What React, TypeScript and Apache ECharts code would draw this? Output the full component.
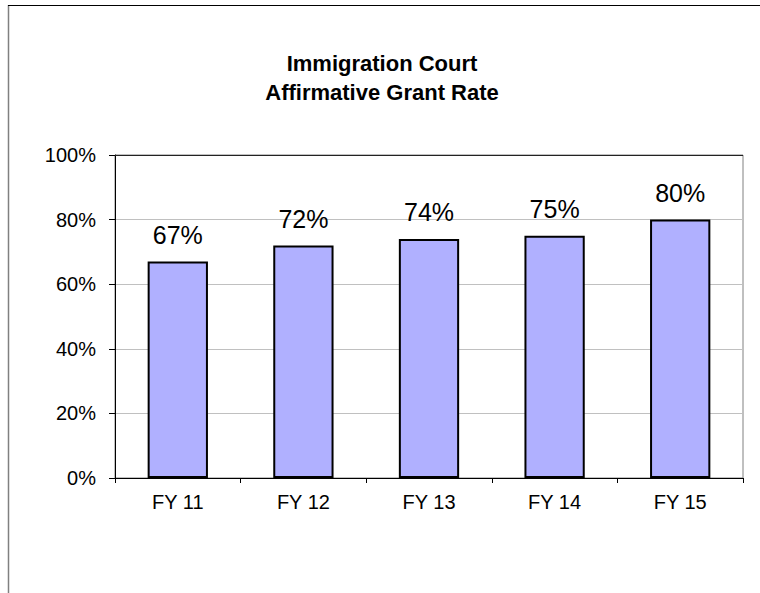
import React, { useEffect, useRef } from "react";
import * as echarts from "echarts";

const categories = ["FY 11", "FY 12", "FY 13", "FY 14", "FY 15"];
const grantRates = [67, 72, 74, 75, 80];
const titleText = "Immigration Court\nAffirmative Grant Rate";

export default function App() {
  const ref = useRef<HTMLDivElement>(null);
  useEffect(() => {
    if (!ref.current) return;
    const chart = echarts.init(ref.current, null, { renderer: "svg" });
    chart.setOption({
      animation: false,
      backgroundColor: "#ffffff",
      title: {
        text: titleText,
        left: 377,
        top: 44,
        textAlign: "center",
        textStyle: {
          fontFamily: "Arial, Liberation Sans, sans-serif",
          fontSize: 22,
          fontWeight: "bold",
          color: "#000",
          lineHeight: 29,
        },
      },
      graphic: [
        { type: "line", shape: { x1: 8.5, y1: 5, x2: 8.5, y2: 600 }, style: { stroke: "#808080", lineWidth: 1.5 } },
        { type: "line", shape: { x1: 8, y1: 5.5, x2: 770, y2: 5.5 }, style: { stroke: "#000", lineWidth: 1 } },
        { type: "line", shape: { x1: 115, y1: 155.5, x2: 743, y2: 155.5 }, style: { stroke: "#222", lineWidth: 1 }, z: 10 },
      ],
      grid: {
        left: 115,
        top: 155,
        right: 17,
        bottom: 115,
        show: true,
        borderColor: "#808080",
        borderWidth: 1,
      },
      xAxis: {
        type: "category",
        data: categories,
        axisLine: { lineStyle: { color: "#000", width: 1 } },
        axisTick: { show: true, length: 5, lineStyle: { color: "#000" } },
        axisLabel: {
          fontFamily: "Arial, Liberation Sans, sans-serif",
          fontSize: 20,
          color: "#000",
          margin: 14,
        },
      },
      yAxis: {
        type: "value",
        min: 0,
        max: 100,
        interval: 20,
        axisLine: { show: true, lineStyle: { color: "#000", width: 1 } },
        axisTick: { show: true, length: 6, lineStyle: { color: "#000" } },
        axisLabel: {
          formatter: "{value}%",
          fontFamily: "Arial, Liberation Sans, sans-serif",
          fontSize: 20,
          color: "#000",
          margin: 19,
        },
        splitLine: { show: true, lineStyle: { color: "#c0c0c0", width: 1 } },
      },
      series: [
        {
          type: "bar",
          data: grantRates,
          barWidth: "48%",
          itemStyle: { color: "#b0b0ff", borderColor: "#000", borderWidth: 2 },
          label: {
            show: true,
            position: "top",
            distance: 14,
            formatter: "{c}%",
            fontFamily: "Arial, Liberation Sans, sans-serif",
            fontSize: 25,
            color: "#000",
          },
        },
      ],
    });
    return () => chart.dispose();
  }, []);
  return (
    <div
      ref={ref}
      style={{ position: "fixed", left: 0, top: 0, width: 760, height: 593 }}
    />
  );
}
